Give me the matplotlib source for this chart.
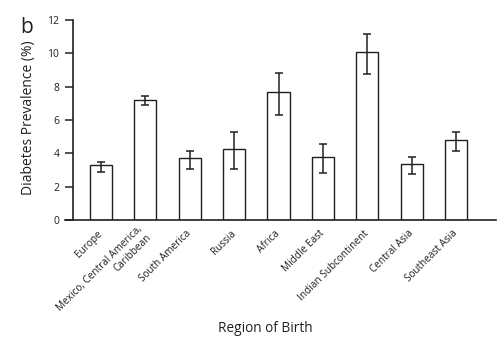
import numpy as np
import matplotlib
matplotlib.use("Agg")
import matplotlib.pyplot as plt
from matplotlib.transforms import offset_copy

regions = ["Europe", "Mexico, Central America,\nCaribbean", "South America", "Russia",
           "Africa", "Middle East", "Indian Subcontinent", "Central Asia", "Southeast Asia"]
prevalence = [3.28, 7.22, 3.70, 4.24, 7.70, 3.76, 10.06, 3.34, 4.82]
ci_low = [2.88, 6.88, 3.08, 3.08, 6.30, 2.82, 8.74, 2.76, 4.14]
ci_high = [3.48, 7.42, 4.16, 5.28, 8.84, 4.56, 11.18, 3.80, 5.30]
yticks = [0, 2, 4, 6, 8, 10, 12]

plt.rcParams['font.family'] = ['Open Sans', 'DejaVu Sans']
ink = "#231f20"

fig = plt.figure(figsize=(5.04, 3.45), dpi=100)
ax = fig.add_axes([65 / 504, 125 / 345, (496 - 65) / 504, 200 / 345])

x = np.arange(len(regions))
vals = np.array(prevalence)
yerr = [vals - np.array(ci_low), np.array(ci_high) - vals]

ax.bar(x, vals, width=0.5, color="white", edgecolor=ink, linewidth=1.0, zorder=2)
ax.errorbar(x, vals, yerr=yerr, fmt="none", ecolor=ink, elinewidth=1.1,
            capsize=3, capthick=1.1, zorder=3)

ax.set_xlim(-0.81, 8.9)
ax.set_ylim(0, 12)
ax.set_yticks(yticks)
ax.tick_params(axis="y", direction="out", length=5.8, width=1.1, color=ink,
               labelsize=7.5, labelcolor=ink, pad=4)
ax.set_xticks([])

for s in ["top", "right"]:
    ax.spines[s].set_visible(False)
ax.spines["left"].set_position(("data", -0.63))
ax.spines["left"].set_color(ink)
ax.spines["bottom"].set_color(ink)
ax.spines["left"].set_linewidth(1.2)
ax.spines["bottom"].set_linewidth(1.2)

# rotated region names, ending just under each bar
trans = offset_copy(ax.get_xaxis_transform(), fig=fig, x=0, y=-12, units="dots")
for xi, lab in zip(x, regions):
    ax.text(xi, 0, lab, transform=trans, rotation=45, rotation_mode="anchor",
            ha="right", va="center", multialignment="right", fontsize=7.2, color=ink)

fig.text(29 / 504, 1 - 118 / 345, "Diabetes Prevalence (%)", rotation=90,
         ha="center", va="center", fontsize=10, color=ink)
fig.text(265 / 504, 1 - 329 / 345, "Region of Birth", ha="center", va="center",
         fontsize=9.8, color=ink)
fig.text(20 / 504, 1 - 33 / 345, "b", fontsize=15, color=ink, ha="left", va="baseline")

fig.savefig("out.png", dpi=100)
